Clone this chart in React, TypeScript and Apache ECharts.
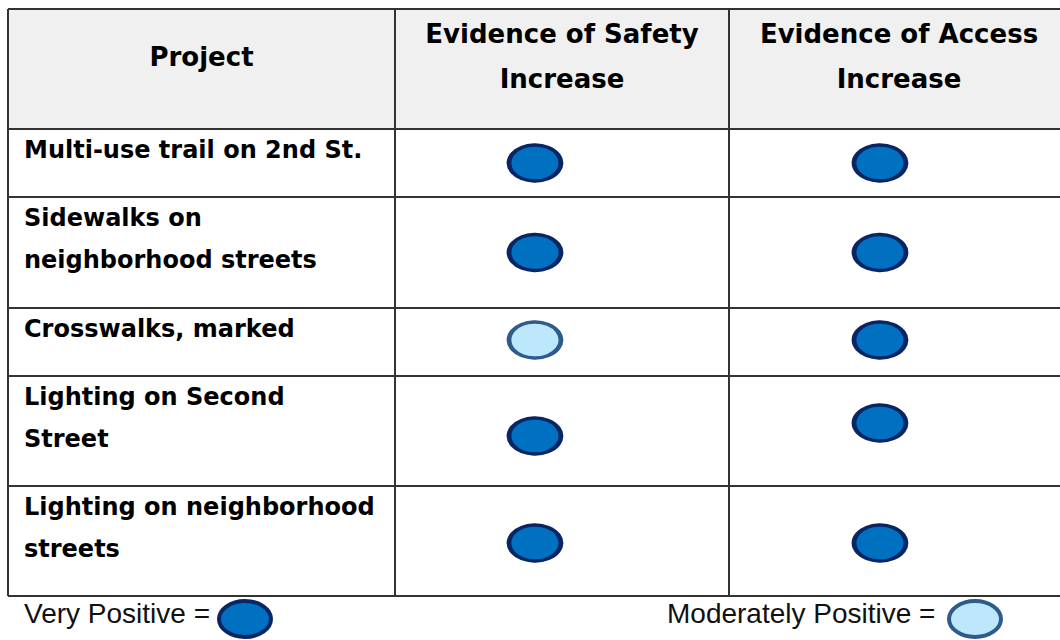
import React, { useEffect, useRef } from "react";
import * as echarts from "echarts";

// ---- data ----
const headerProject = "Project";
const columnHeaders = [
  ["Evidence of Safety", "Increase"],
  ["Evidence of Access", "Increase"],
];
const projects = [
  ["Multi-use trail on 2nd St."],
  ["Sidewalks on", "neighborhood streets"],
  ["Crosswalks, marked"],
  ["Lighting on Second", "Street"],
  ["Lighting on neighborhood", "streets"],
];
const safetyRatings = ["Very Positive", "Very Positive", "Moderately Positive", "Very Positive", "Very Positive"];
const accessRatings = ["Very Positive", "Very Positive", "Very Positive", "Very Positive", "Very Positive"];
const legendItems = ["Very Positive", "Moderately Positive"];

// ---- layout ----
const W = 1060;
const H = 640;
const tableLeft = 8;
const tableTop = 9;
const tableRight = 1069;
const headerBottom = 129;
const rowEdges = [129, 197, 308, 376, 486, 596];
const colEdges = [395, 729];
const colCenters = [535, 880];
const rowMarkerShift: number[][] = [
  [0, 0],
  [0, 0],
  [-2, -2],
  [5, -8],
  [2, 2],
];

const styles: Record<string, { fill: string; stroke: string }> = {
  "Very Positive": { fill: "#0070c0", stroke: "#0a2563" },
  "Moderately Positive": { fill: "#bde8fb", stroke: "#2f5b8c" },
};

const heavyFont = '"DejaVu Sans", Verdana, sans-serif';
const plainFont = '"Liberation Sans", Arial, sans-serif';

export default function App() {
  const ref = useRef<HTMLDivElement>(null);
  useEffect(() => {
    document.body.style.margin = "0";
    const chart = echarts.init(ref.current!, null, { renderer: "svg" });

    const scatterData: any[] = [];
    [safetyRatings, accessRatings].forEach((ratings, c) => {
      ratings.forEach((r, i) => {
        const y = (rowEdges[i] + rowEdges[i + 1]) / 2 + rowMarkerShift[i][c];
        const st = styles[r];
        scatterData.push({
          value: [colCenters[c], y],
          name: r,
          itemStyle: { color: st.fill, borderColor: st.stroke, borderWidth: 4, opacity: 1 },
        });
      });
    });

    const graphics: any[] = [];
    graphics.push({
      type: "rect",
      shape: { x: tableLeft, y: tableTop, width: tableRight - tableLeft, height: headerBottom - tableTop },
      style: { fill: "#f0f0f0" },
      z: -1,
    });
    const lineStyle = { stroke: "#333333", lineWidth: 2 };
    [tableTop, ...rowEdges].forEach((y) => {
      graphics.push({ type: "line", shape: { x1: tableLeft, y1: y, x2: tableRight, y2: y }, style: lineStyle });
    });
    [tableLeft, ...colEdges].forEach((x) => {
      graphics.push({ type: "line", shape: { x1: x, y1: tableTop, x2: x, y2: rowEdges[rowEdges.length - 1] }, style: lineStyle });
    });
    graphics.push({
      type: "text",
      x: (tableLeft + colEdges[0]) / 2,
      y: 57,
      style: { text: headerProject, fill: "#000", font: `bold 26px ${heavyFont}`, textAlign: "center", textVerticalAlign: "middle" },
    });
    const colMids = [(colEdges[0] + colEdges[1]) / 2, (colEdges[1] + tableRight) / 2];
    columnHeaders.forEach((lines, c) => {
      lines.forEach((t, j) => {
        graphics.push({
          type: "text",
          x: colMids[c],
          y: 34 + j * 45,
          style: { text: t, fill: "#000", font: `bold 26px ${heavyFont}`, textAlign: "center", textVerticalAlign: "middle" },
        });
      });
    });
    projects.forEach((lines, i) => {
      lines.forEach((t, j) => {
        graphics.push({
          type: "text",
          x: 24,
          y: rowEdges[i] + 21 + j * 42,
          style: { text: t, fill: "#000", font: `bold 24px ${heavyFont}`, textAlign: "left", textVerticalAlign: "middle" },
        });
      });
    });
    const legendX = [24, 667];
    const legendEllX = [245, 975];
    legendItems.forEach((name, k) => {
      graphics.push({
        type: "text",
        x: legendX[k],
        y: 613,
        style: { text: name + " =", fill: "#111", font: `28px ${plainFont}`, textAlign: "left", textVerticalAlign: "middle" },
      });
      graphics.push({
        type: "ellipse",
        shape: { cx: legendEllX[k], cy: 619, rx: 26, ry: 18 },
        style: { fill: styles[name].fill, stroke: styles[name].stroke, lineWidth: 4 },
      });
    });

    chart.setOption({
      animation: false,
      grid: { left: 0, top: 0, width: W, height: H },
      xAxis: { type: "value", min: 0, max: W, show: false },
      yAxis: { type: "value", min: 0, max: H, inverse: true, show: false },
      graphic: graphics,
      series: [
        {
          type: "scatter",
          symbol: "circle",
          symbolSize: [52, 36],
          data: scatterData,
          z: 5,
        },
      ],
    });
    return () => chart.dispose();
  }, []);
  return <div ref={ref} style={{ width: W, height: H }} />;
}
